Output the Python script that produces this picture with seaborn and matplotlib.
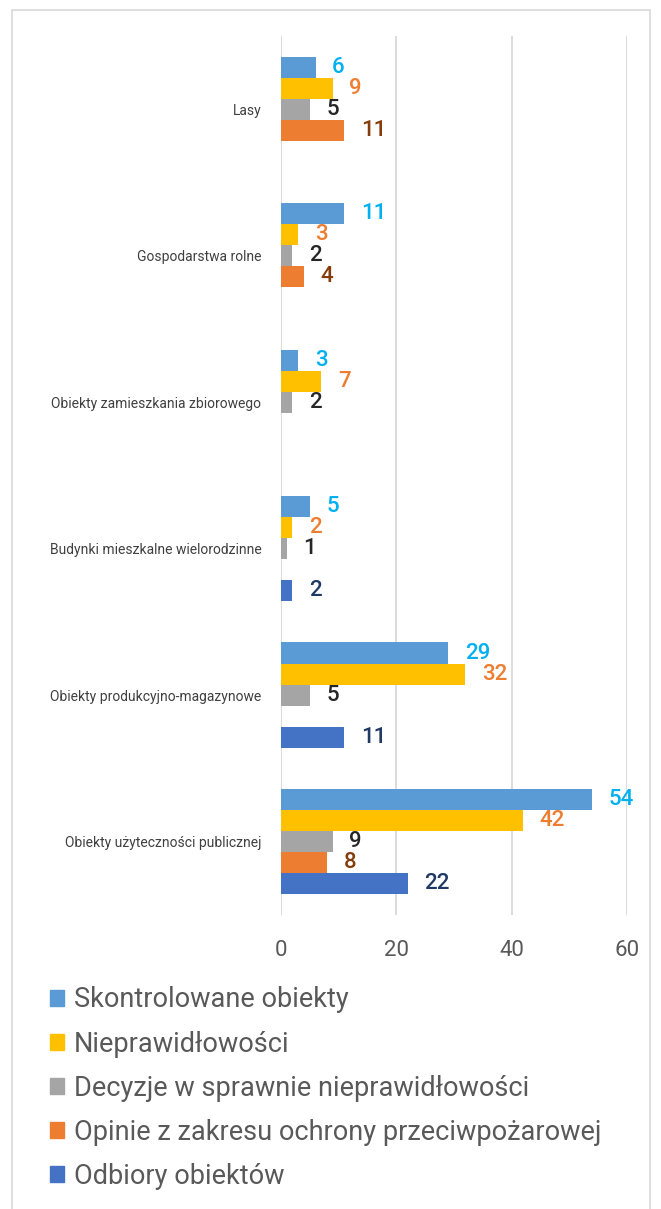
import numpy as np
import pandas as pd
import matplotlib
matplotlib.use("Agg")
import matplotlib.pyplot as plt
import seaborn as sns
from matplotlib.patches import Rectangle

# -------------------------------
# Data
# -------------------------------
categories = [
    "Lasy",
    "Gospodarstwa rolne",
    "Obiekty zamieszkania zbiorowego",
    "Budynki mieszkalne wielorodzinne",
    "Obiekty produkcyjno-magazynowe",
    "Obiekty użyteczności publicznej",
]
series_names = [
    "Skontrolowane obiekty",
    "Nieprawidłowości",
    "Decyzje w sprawnie nieprawidłowości",
    "Opinie z zakresu ochrony przeciwpożarowej",
    "Odbiory obiektów",
]
skontrolowane = [6, 11, 3, 5, 29, 54]
nieprawidlowosci = [9, 3, 7, 2, 32, 42]
decyzje = [5, 2, 2, 1, 5, 9]
opinie = [11, 4, None, None, None, 8]
odbiory = [None, None, None, 2, 11, 22]

bar_colors = ["#5b9bd5", "#ffc000", "#a5a5a5", "#ed7d31", "#4472c4"]
label_colors = ["#00b0f0", "#ed7d31", "#262626", "#843c0c", "#1f3864"]
x_ticks = [0, 20, 40, 60]

all_series = [skontrolowane, nieprawidlowosci, decyzje, opinie, odbiory]
rows = []
for name, vals in zip(series_names, all_series):
    for cat, v in zip(categories, vals):
        rows.append({"kategoria": cat, "seria": name,
                     "wartosc": 0 if v is None else v})
df = pd.DataFrame(rows)

# -------------------------------
# Plot
# -------------------------------
sns.set_style("white")
plt.rcParams["font.family"] = ["Roboto", "DejaVu Sans"]

fig = plt.figure(figsize=(6.61, 12.09), dpi=100)
ax = fig.add_axes([0.425, 0.2432, 0.5235, 0.727])

sns.barplot(data=df, y="kategoria", x="wartosc", hue="seria",
            order=categories, hue_order=series_names,
            palette=bar_colors, orient="h", width=0.72,
            linewidth=0, saturation=1, errorbar=None, ax=ax, legend=False)

# value labels
for cont, vals, col in zip(ax.containers, all_series, label_colors):
    labels = ["" if v is None else str(v) for v in vals]
    ax.bar_label(cont, labels=labels, padding=12, color=col,
                 fontsize=16, fontweight="medium")

ax.set_xlim(0, 60)
ax.set_xticks(x_ticks)
ax.set_xlabel("")
ax.set_ylabel("")
ax.grid(axis="x", color="#d9d9d9", linewidth=1.3)
ax.set_axisbelow(True)
for s in ax.spines.values():
    s.set_visible(False)
ax.tick_params(axis="x", length=0, pad=18, labelsize=16, labelcolor="#595959")
ax.tick_params(axis="y", length=0, pad=14, labelsize=10, labelcolor="#404040")

# legend
handles = [Rectangle((0, 0), 1, 1, color=c) for c in bar_colors]
fig.legend(handles, series_names, loc="upper left",
           bbox_to_anchor=(0.06, 0.193), frameon=False,
           fontsize=19.5, labelcolor="#595959", handlelength=0.5,
           handleheight=0.5, handletextpad=0.35, labelspacing=0.63,
           borderaxespad=0)

# outer border
fig.patches.append(Rectangle((12 / 661, -0.01), 638 / 661, 1 - 10 / 1209 + 0.01,
                             transform=fig.transFigure, fill=False,
                             edgecolor="#d9d9d9", linewidth=1.2))

fig.savefig("out.png", dpi=100)
